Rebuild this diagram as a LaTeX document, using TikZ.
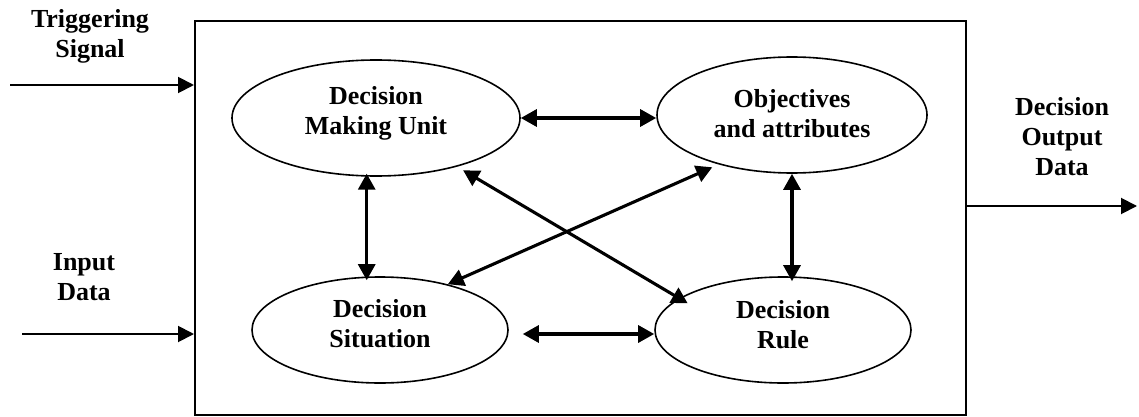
\documentclass[tikz,border=0pt]{standalone}
\usepackage{fontspec}
\setmainfont{Liberation Serif}
\usetikzlibrary{arrows.meta,shapes.geometric}

\begin{document}
\begin{tikzpicture}[x=1pt,y=-1pt,
  lbl/.style={font=\bfseries\fontsize{26}{30}\selectfont, align=center, inner sep=0pt},
  unit/.style={ellipse, draw, line width=1.6pt, inner sep=0pt},
  bi/.style={line width=3.1pt, {Triangle[length=16pt,width=17pt]}-{Triangle[length=16pt,width=17pt]}},
  io/.style={line width=1.9pt, -{Triangle[length=16pt,width=16pt]}}
]
\useasboundingbox (0,0) rectangle (1139,417);

% system boundary
\node (sys) [draw, line width=2pt, minimum width=771pt, minimum height=394pt, inner sep=0pt] at (580.5,218) {};

% components of the decision process
\node (dmu) [unit, minimum width=288pt, minimum height=116pt,
  label={[lbl,yshift=5pt]center:Decision\\Making Unit}] at (376,118) {};
\node (obj) [unit, minimum width=270pt, minimum height=116pt,
  label={[lbl,yshift=1pt]center:Objectives\\and attributes}] at (792,115) {};
\node (sit) [unit, minimum width=256pt, minimum height=106pt,
  label={[lbl,yshift=6pt]center:Decision\\Situation}] at (380,330) {};
\node (rule) [unit, minimum width=256pt, minimum height=106pt,
  label={[lbl,yshift=5pt]center:Decision\\Rule}] at (783,330) {};

% interactions
\draw[bi] (dmu.east) -- (dmu.east -| obj.west);
\draw[bi] ([shift={(14,4)}]sit.east) -- ([shift={(0,4)}]sit.east -| rule.west);
\draw[bi, shorten <=-3pt, shorten >=-4pt] (dmu.261) -- (dmu.261 |- sit.north);
\draw[bi, shorten >=-5pt] (obj.south) -- (obj.south |- rule.north);
\draw[bi, shorten <=7pt, shorten >=-10pt] (dmu.329) -- (rule.163);
\draw[bi, shorten >=7pt] (sit.34) -- (obj.214);

% external signals
\node (trig) [lbl] at (90,36) {Triggering\\Signal};
\coordinate (trigin) at (10,85);
\draw[io] (trigin) -- (trigin -| sys.west);

\node (inp) [lbl] at (84,277) {Input\\Data};
\coordinate (inpin) at (22,334);
\draw[io] (inpin) -- (inpin -| sys.west);

\node (out) [lbl] at (1062,137) {Decision\\Output\\Data};
\coordinate (outend) at (1137,206);
\draw[io] (outend -| sys.east) -- (outend);
\end{tikzpicture}
\end{document}
